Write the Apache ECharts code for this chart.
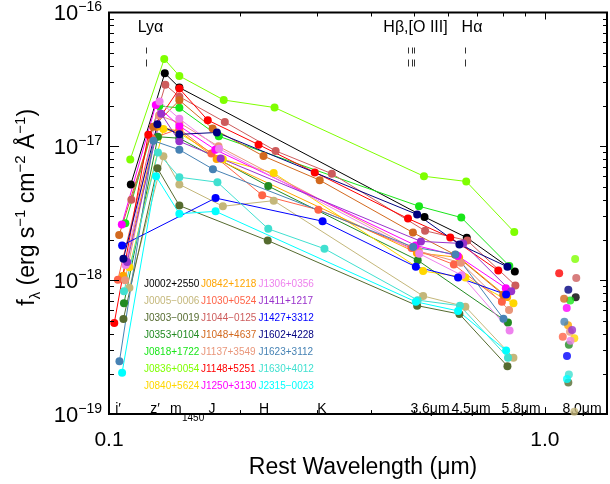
<!DOCTYPE html>
<html><head><meta charset="utf-8">
<script src="https://cdn.jsdelivr.net/npm/echarts@6/dist/echarts.min.js"></script>
<style>html,body{margin:0;padding:0;background:#fff}#c{width:610px;height:484px}</style>
</head><body><div id="c"></div>
<script>
// ---------------- DATA ----------------
const quasarNames = ["J0002+2550","J0005−0006","J0303−0019","J0353+0104","J0818+1722","J0836+0054","J0840+5624",
  "J0842+1218","J1030+0524","J1044−0125","J1048+4637","J1137+3549","J1148+5251","J1250+3130",
  "J1306+0356","J1411+1217","J1427+3312","J1602+4228","J1623+3112","J1630+4012","J2315−0023"];
const quasarColors = ["#000000","#C4B77A","#556B2F","#228B22","#19E619","#7FFF00","#FFD700",
  "#FFA500","#FF6347","#CD5C5C","#D2691E","#E9967A","#FF0000","#FF00FF",
  "#EE82EE","#9932CC","#0000FF","#000080","#4682B4","#40E0D0","#00FFFF"];
const redshifts = [5.80,5.85,6.07,6.05,6.00,5.82,5.85,6.08,6.28,5.78,6.23,6.01,6.42,6.13,5.99,5.93,6.12,6.07,6.22,6.05,6.12];
// bands: i', z', m1450, J, H, K, 3.6um, 4.5um, 5.8um, 8.0um (observed-frame wavelength, micron)
const bandObservedWavelength = [0.763, 0.913, null, 1.25, 1.635, 2.2, 3.6, 4.5, 5.8, 8.0];
const m1450RestWavelength = 0.145;
const FLUX_UNIT = 1e-18; // erg s^-1 cm^-2 A^-1
// flux in units of 1e-18, order: i', z', m1450, J, H, K, 3.6, 4.5, 5.8, 8.0
const fluxJ0002 = [5.2, 35.2, 27.5, null, null, null, 2.97, 2.08, 1.16, 0.747];
const fluxJ0005 = [0.88, 8.45, 5.2, 3.57, 3.93, null, 0.763, 0.635, 0.264, 0.104];
const fluxJ0303 = [0.514, 6.87, 3.61, null, 1.98, null, 0.646, 0.559, 0.228, 0.172];
const fluxJ0353 = [0.672, 11.8, 11.5, null, 5.05, null, 1.41, null, 0.483, 0.33];
const fluxJ0818 = [2.66, 20.0, 19.4, 11.9, null, null, 3.57, 2.94, 1.28, 0.707];
const fluxJ0836 = [7.98, 45.0, 33.6, 22.2, 19.5, null, 5.98, 5.47, 2.29, 1.44];
const fluxJ0840 = [1.25, 13.5, 12.5, 8.0, 6.32, null, 1.17, 1.05, 0.672, 0.369];
const fluxJ0842 = [1.08, 14.0, 13.0, 8.04, null, null, 1.6, 1.48, 0.75, 0.462];
const fluxJ1030 = [1.01, 11.5, 13.5, 8.83, 4.32, 3.36, 1.74, 1.31, 0.69, 0.378];
const fluxJ1044 = [4.0, 28.8, 23.5, 15.2, 9.25, 6.25, 2.34, 1.98, 0.914, 1.04];
const fluxJ1048 = [2.18, 14.0, 22.1, 13.6, 8.46, 5.59, 2.27, 1.55, 0.78, 0.726];
const fluxJ1137 = [1.0, 17.0, 15.0, 10.0, null, null, 1.65, 1.35, 0.6, 0.413];
const fluxJ1148 = [0.48, 12.2, 27.0, 15.7, 10.3, 6.39, 2.89, 2.09, 1.18, 1.13];
const fluxJ1250 = [2.61, 20.4, 14.2, 9.45, null, null, 1.82, 1.52, 0.873, 0.621];
const fluxJ1306 = [1.3, 21.6, 16.1, 9.6, null, null, 1.58, 1.09, 0.422, 0.353];
const fluxJ1411 = [1.37, 17.5, 10.9, 8.13, null, null, 1.95, 1.88, 0.826, 0.425];
const fluxJ1427 = [1.82, null, null, 4.11, null, 2.76, 1.26, 1.05, 0.781, 0.272];
const fluxJ1602 = [1.45, 14.6, 12.3, 12.7, null, null, 3.1, 1.85, 1.26, 0.85];
const fluxJ1623 = [0.248, 11.0, 9.44, 6.76, null, null, 1.77, 1.56, 0.516, 0.489];
const fluxJ1630 = [0.826, 8.98, 5.88, 5.4, 2.42, 1.72, 0.71, 0.645, 0.264, 0.198];
const fluxJ2315 = [0.204, 5.98, 3.14, 3.27, null, null, 0.69, 0.59, 0.298, 0.183];
const fluxTable = [fluxJ0002, fluxJ0005, fluxJ0303, fluxJ0353, fluxJ0818, fluxJ0836, fluxJ0840,
  fluxJ0842, fluxJ1030, fluxJ1044, fluxJ1048, fluxJ1137, fluxJ1148, fluxJ1250,
  fluxJ1306, fluxJ1411, fluxJ1427, fluxJ1602, fluxJ1623, fluxJ1630, fluxJ2315];

// tick values
const xMinorTickValues = [0.2, 0.3, 0.4, 0.5, 0.6, 0.7, 0.8, 0.9];
const xMajorTickValues = [1.0];
const yMantissas = [2, 3, 4, 5, 6, 7, 8, 9];
const yDecades = [1e-19, 1e-18, 1e-17];
const yMajorTickValues = [1e-18, 1e-17];
const xTickLabels = {"0.1": "0.1", "1": "1.0"};

// emission line markers (rest wavelength, micron)
const emissionLineWavelengths = [0.1216, 0.4861, 0.4959, 0.5007, 0.6563];
const emissionLabelTexts = ["Lyα", "Hβ,[O III]", "Hα"];
const bandLabelTexts = ["i′", "z′", "J", "H", "K", "3.6μm", "4.5μm", "5.8μm", "8.0μm"];

// ---------------- CHART ----------------
const FONT = "'Liberation Sans', Arial, Helvetica, sans-serif";
const chart = echarts.init(document.getElementById('c'), null, {renderer: 'canvas', width: 610, height: 484});

const restWavelength = (q, b) => b === 2 ? m1450RestWavelength : bandObservedWavelength[b] / (1 + redshifts[q]);

const lineSeries = quasarNames.map((name, q) => {
  const pts = [];
  for (let b = 0; b < 9; b++) {
    const f = fluxTable[q][b];
    if (f == null) continue;
    pts.push([restWavelength(q, b), f * FLUX_UNIT]);
  }
  return {
    type: 'line', name, data: pts, symbol: 'circle', symbolSize: 8, showSymbol: true,
    itemStyle: {color: quasarColors[q]}, lineStyle: {color: quasarColors[q], width: 1},
    emphasis: {disabled: true}, silent: true, z: 2
  };
});

const irac8Series = {
  type: 'scatter', symbolSize: 8, silent: true, z: 2,
  data: quasarNames.map((n, q) => ({
    value: [restWavelength(q, 9), fluxTable[q][9] * FLUX_UNIT],
    itemStyle: {color: quasarColors[q]}
  }))
};

const ST = {stroke: '#000', lineWidth: 1};
function xTickRender(len) {
  return function (params, api) {
    const cs = params.coordSys;
    const x = Math.round(api.coord([api.value(0), 1e-18])[0]) + 0.5;
    return {type: 'group', children: [
      {type: 'line', shape: {x1: x, y1: cs.y + cs.height, x2: x, y2: cs.y + cs.height - len}, style: ST},
      {type: 'line', shape: {x1: x, y1: cs.y, x2: x, y2: cs.y + len}, style: ST}
    ]};
  };
}
function yTickRender(lenL, lenR) {
  return function (params, api) {
    const cs = params.coordSys;
    const y = Math.round(api.coord([0.5, api.value(1)])[1]) + 0.5;
    return {type: 'group', children: [
      {type: 'line', shape: {x1: cs.x, y1: y, x2: cs.x + lenL, y2: y}, style: ST},
      {type: 'line', shape: {x1: cs.x + cs.width, y1: y, x2: cs.x + cs.width - lenR, y2: y}, style: ST}
    ]};
  };
}
const yMinorTickValues = [];
yDecades.forEach(d => yMantissas.forEach(m => yMinorTickValues.push(m * d)));

const tickSeries = [
  {type: 'custom', silent: true, z: 5, data: xMinorTickValues.map(v => [v, 1e-18]), renderItem: xTickRender(4)},
  {type: 'custom', silent: true, z: 5, data: xMajorTickValues.map(v => [v, 1e-18]), renderItem: xTickRender(7)},
  {type: 'custom', silent: true, z: 5, data: yMinorTickValues.map(v => [0.5, v]), renderItem: yTickRender(5, 4)},
  {type: 'custom', silent: true, z: 5, data: yMajorTickValues.map(v => [0.5, v]), renderItem: yTickRender(10, 7)},
  {type: 'custom', silent: true, z: 5, data: emissionLineWavelengths.map(v => [v, 1e-17]),
    renderItem: function (params, api) {
      const cs = params.coordSys;
      const x = Math.round(api.coord([api.value(0), 1e-17])[0]) + 0.5;
      const s = {stroke: '#333', lineWidth: 1};
      return {type: 'group', children: [
        {type: 'line', shape: {x1: x, y1: cs.y + 35, x2: x, y2: cs.y + 41}, style: s},
        {type: 'line', shape: {x1: x, y1: cs.y + 47, x2: x, y2: cs.y + 54}, style: s}
      ]};
    }}
];

// ------------- text graphics -------------
const graphics = [];
const legendColumnLeft = [144, 201, 258.5];
quasarNames.forEach((name, i) => {
  const col = Math.floor(i / 7), row = i % 7;
  graphics.push({type: 'text', x: legendColumnLeft[col], y: 284.7 + row * 16.9, silent: true,
    style: {text: name, fill: quasarColors[i], font: '10px ' + FONT, textVerticalAlign: 'middle', textAlign: 'left'}});
});
const bandLabelCenters = [118, 155, 212, 264, 322, 430, 471, 521, 582];
bandLabelTexts.forEach((t, i) => {
  graphics.push({type: 'text', x: bandLabelCenters[i], y: 409, silent: true,
    style: {text: t, fill: '#000', font: '14px ' + FONT, textAlign: 'center', textVerticalAlign: 'middle'}});
});
graphics.push({type: 'text', x: 170, y: 409, silent: true,
  style: {text: 'm', fill: '#000', font: '14px ' + FONT, textAlign: 'left', textVerticalAlign: 'middle'}});
graphics.push({type: 'text', x: 182, y: 418, silent: true,
  style: {text: '1450', fill: '#000', font: '10px ' + FONT, textAlign: 'left', textVerticalAlign: 'middle'}});
const emissionLabelCenters = [150.5, 415.5, 472];
emissionLabelTexts.forEach((t, i) => {
  graphics.push({type: 'text', x: emissionLabelCenters[i], y: 28, silent: true,
    style: {text: t, fill: '#000', font: '16px ' + FONT, textAlign: 'center', textVerticalAlign: 'middle'}});
});

const option = {
  animation: false,
  backgroundColor: '#fff',
  textStyle: {fontFamily: FONT},
  grid: {left: 109, right: 1, top: 12, bottom: 60, show: true, borderColor: '#000', borderWidth: 2, backgroundColor: 'transparent'},
  xAxis: {
    type: 'log', logBase: 10, min: 0.1, max: 1.388,
    axisLine: {show: false}, axisTick: {show: false}, splitLine: {show: false},
    axisLabel: {fontSize: 21, color: '#000', margin: 16, fontFamily: FONT,
      formatter: v => {
        if (Math.abs(v - 0.1) < 1e-9) return xTickLabels["0.1"];
        if (Math.abs(v - 1) < 1e-9) return xTickLabels["1"];
        return '';
      }},
    name: 'Rest Wavelength (μm)', nameLocation: 'middle', nameGap: 37,
    nameTextStyle: {fontSize: 23, color: '#000', fontFamily: FONT, padding: [0, 0, 0, 10]}
  },
  yAxis: {
    type: 'log', logBase: 10, min: 1e-19, max: 1e-16,
    axisLine: {show: false}, axisTick: {show: false}, splitLine: {show: false},
    axisLabel: {margin: 7, color: '#000',
      formatter: v => '{b|10}{s|−' + Math.round(-Math.log10(v)) + '}',
      rich: {
        b: {fontSize: 22, fontFamily: FONT, color: '#000', lineHeight: 24, padding: [3, 0, 0, 0]},
        s: {fontSize: 14, fontFamily: FONT, color: '#000', verticalAlign: 'top', lineHeight: 14}
      }},
    name: '{n|f}{sub|λ}{n| (erg s}{sup|−1}{n| cm}{sup|−2}{n| Å}{sup|−1}{n|)}',
    nameLocation: 'middle', nameGap: 66, nameRotate: 90,
    nameTextStyle: {
      padding: [0, 0, 0, 12],
      rich: {
        n: {fontSize: 23, fontFamily: FONT, color: '#000', lineHeight: 30},
        sup: {fontSize: 15, fontFamily: FONT, color: '#000', verticalAlign: 'top', lineHeight: 15},
        sub: {fontSize: 15, fontFamily: FONT, color: '#000', verticalAlign: 'bottom', lineHeight: 15}
      }
    }
  },
  graphic: graphics,
  series: [...lineSeries, irac8Series, ...tickSeries]
};
chart.setOption(option);
</script></body></html>
